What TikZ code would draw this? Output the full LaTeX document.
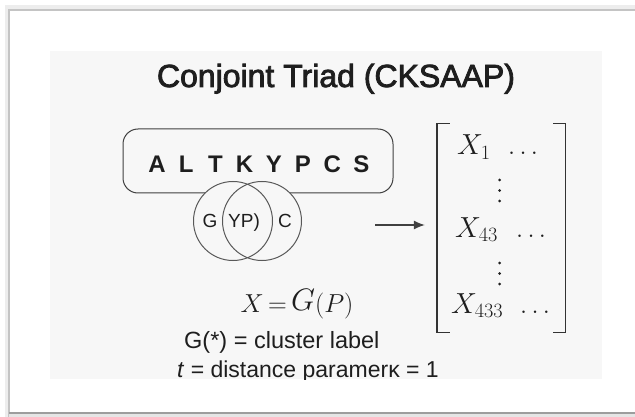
\RequirePackage{fix-cm}
\documentclass[tikz,border=0pt]{standalone}
\usepackage{amsmath}
\usepackage[no-math]{fontspec}
\setmainfont{Liberation Sans}
\newfontfamily\titlefont[FakeBold=2.5]{Liberation Sans}
\usetikzlibrary{arrows.meta}

\definecolor{panelgray}{HTML}{F7F7F7}
\definecolor{framegray}{HTML}{C4C4C4}
\definecolor{inkgray}{HTML}{1E1E1E}

\newcommand{\fsize}[1]{\fontsize{#1}{#1}\selectfont}

\begin{document}
\begin{tikzpicture}[x=1pt, y=-1pt,
        txt/.style={inner sep=0pt, text=inkgray},
        residue/.style={txt, anchor=base, font=\fsize{24}\bfseries},
        entry/.style={txt, anchor=base west, font=\fsize{29}},
        dots/.style={txt, anchor=base west, font=\fsize{26}},
        venn/.style={circle, draw=black!65, line width=1pt, minimum size=79pt, inner sep=0pt},
        bracket/.style={draw=black!80, line width=1.4pt}]
        \useasboundingbox (0,0) rectangle (635,417);
        % card with its shadow, then the grey panel
        \fill[white] (0,0) rectangle (635,417);
        \draw[black!7, line width=4pt] (6.5,417) -- (6.5,7.5) -- (635,7.5);
        \draw[framegray, line width=1.6pt] (9,417) -- (9,10) -- (635,10);
        \fill[black!10] (9,413) rectangle (635,417);
        \draw[framegray!80!black, line width=1.4pt] (9,413) -- (635,413);
        \fill[panelgray] (50,51) rectangle (602,379);

        \node[txt, anchor=base, font=\fsize{32}\titlefont] (title) at (336,87) {Conjoint Triad (CKSAAP)};

        % sequence box
        \node[draw=black!75, line width=1pt, rounded corners=15pt, minimum width=270pt, minimum height=64pt] (seq) at (258,161) {};
        \foreach \aa [count=\i from 0] in {A,L,T,K,Y,P,C,S}
                \node[residue] (res\i) at (157+29.2*\i,173) {\aa};

        % two overlapping groups
        \fill[panelgray] (233,221) circle (39.5pt) (262,221) circle (39.5pt);
        \node[venn] (lcirc) at (233,221) {};
        \node[venn] (rcirc) at (262,221) {};
        \node[txt, anchor=base, font=\fsize{19}] (glabel) at (210,228) {G};
        \node[txt, anchor=base, font=\fsize{19}] (yplabel) at (244,228) {YP)};
        \node[txt, anchor=base, font=\fsize{19}] (clabel) at (285,228) {C};

        % feature vector
        \node[minimum width=128pt, minimum height=208pt, inner sep=0pt] (vec) at (501,228) {};
        \draw[bracket] ([xshift=13pt]vec.north west) -- (vec.north west) -- (vec.south west) -- ([xshift=13pt]vec.south west);
        \draw[bracket] ([xshift=-12pt]vec.north east) -- (vec.north east) -- (vec.south east) -- ([xshift=-12pt]vec.south east);
        \node[entry] (x1) at (457,155) {$X_1$};
        \node[dots] (d1) at (508,155) {$\ldots$};
        \node[entry] (x43) at (455,237) {$X_{43}$};
        \node[dots] (d43) at (516,237) {$\ldots$};
        \node[entry] (x433) at (451,313) {$X_{433}$};
        \node[dots] (d433) at (520,313) {$\ldots$};
        % vertical dots between the rows
        \foreach \yy in {180,190.5,201,263,273.5,284}
                \fill[inkgray] (499.5,\yy) circle (1.5pt);

        \coordinate (arrtail) at (375,225);
        \draw[-{Latex[length=11pt,width=9pt]}, black!75, line width=1.1pt, shorten >=12pt] (arrtail) -- (arrtail -| vec.west);

        \node[txt, anchor=base, font=\fsize{26}] (formula) at (297,312) {$X\,{=}\,\raisebox{1.5pt}{\fsize{31}$G$}(P)$};

        % captions, cut off by the panel edge
        \begin{scope}
                \clip (50,51) rectangle (602,379);
                \node[txt, anchor=base west, font=\fsize{23.5}] (glegend) at (184,348) {G(*) = cluster label};
                \node[txt, anchor=base west, font=\fsize{23}] (tlegend) at (177,377) {\textit{t} = distance paramerκ = 1};
        \end{scope}
\end{tikzpicture}
\end{document}
